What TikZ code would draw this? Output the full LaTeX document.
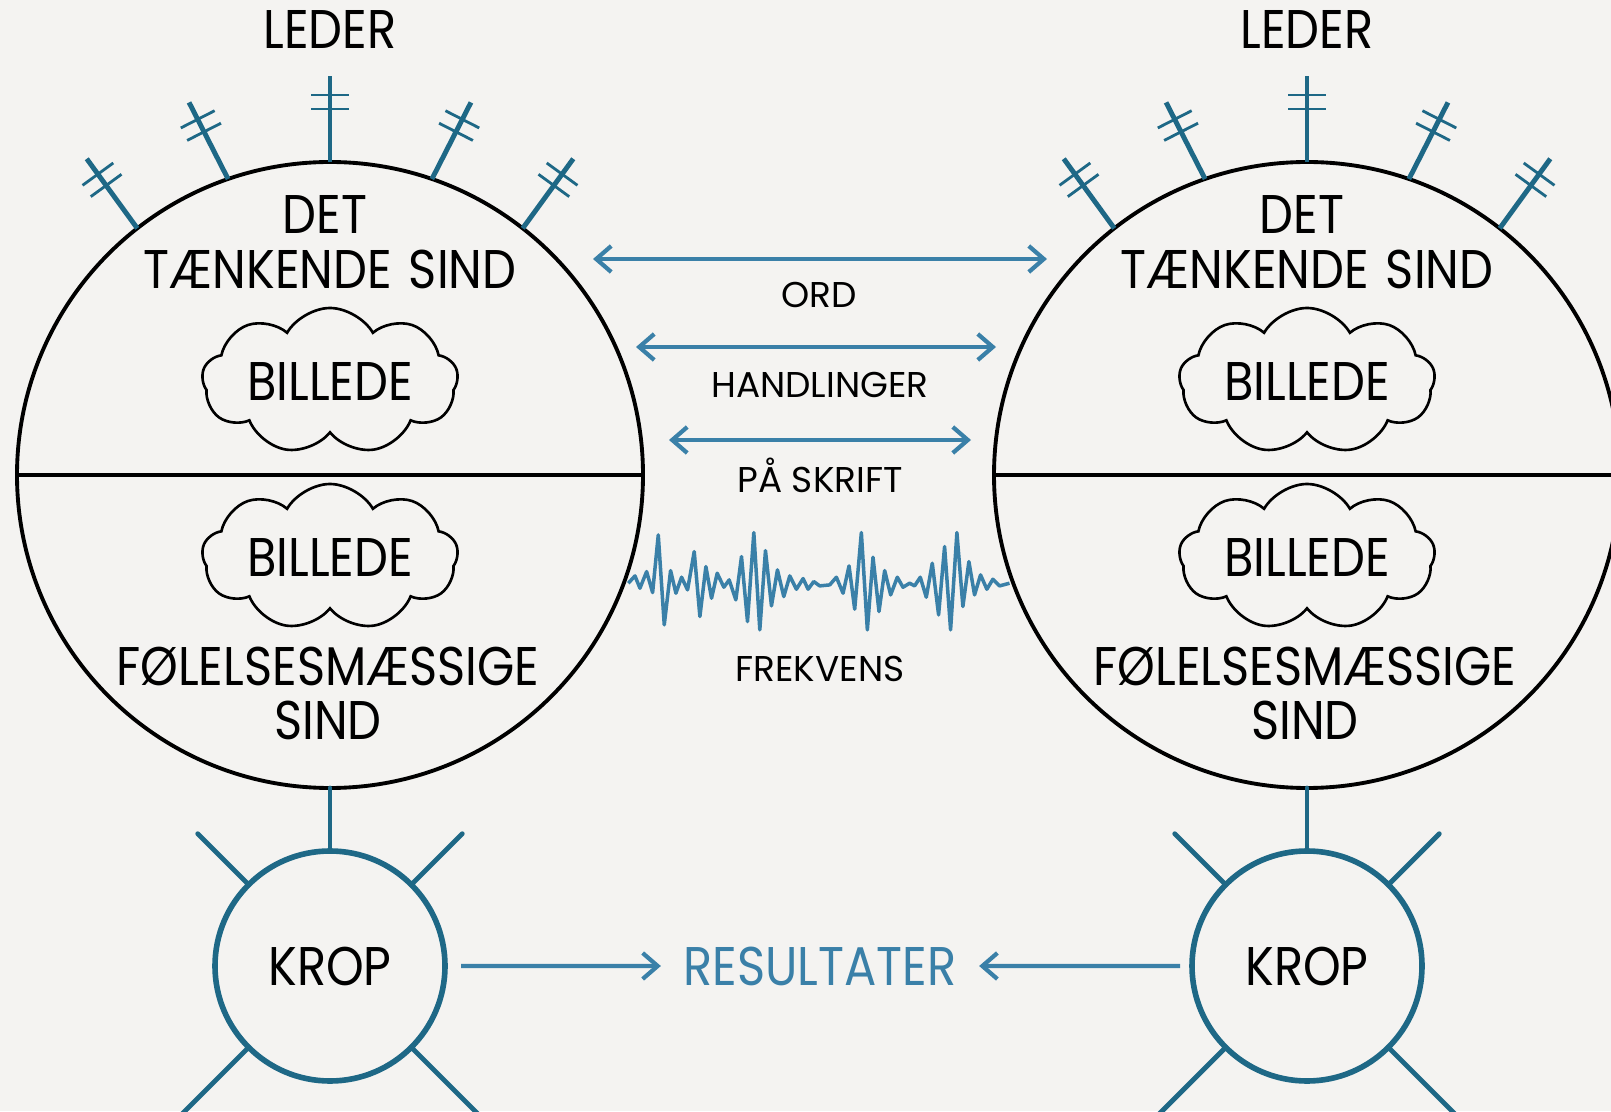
\documentclass[tikz,border=0pt]{standalone}
\usepackage{fontspec}
\setmainfont{Poppins}[FakeStretch=0.88]
\newfontfamily\labelfont{Poppins}
\usetikzlibrary{positioning,shapes.symbols,arrows.meta}
\definecolor{bg}{HTML}{F4F3F1}
\definecolor{darkteal}{HTML}{1E6886}
\definecolor{lightteal}{HTML}{3A80A8}

\begin{document}
\begin{tikzpicture}[node distance=9.77cm, on grid,
    >={Straight Barb[length=1.5mm,width=2.6mm]},
    mind/.style={circle, draw, line width=1.1pt, minimum size=6.26cm, inner sep=0pt, outer sep=0pt},
    krop/.style={circle, draw=darkteal, line width=1.6pt, minimum size=2.3cm, inner sep=0pt, outer sep=0pt, font=\fontsize{15.5}{18}\selectfont},
    billede/.style={cloud, draw, cloud puffs=9, cloud puff arc=120, aspect=1.75, minimum width=2.56cm, minimum height=1.46cm, inner xsep=-0.4cm, inner ysep=-0.12cm, line width=0.75pt, font=\fontsize{15.5}{18}\selectfont},
    big/.style={anchor=base, inner sep=0pt, font=\fontsize{15.5}{18}\selectfont},
    small/.style={anchor=base, inner sep=0pt, font=\labelfont\fontsize{10.2}{12}\selectfont},
    pil/.style={draw=lightteal, line width=1.2pt},
    mast/.style={draw=darkteal, line width=1.4pt},
    bar/.style={draw=darkteal, line width=0.8pt},
    ray/.style={draw=darkteal, line width=1.4pt, line cap=round}]

    \useasboundingbox (0,0) rectangle (16.11,11.11);
    \fill[bg] (0,0) rectangle (16.11,11.11);

    \node[mind] (sindL) at (3.30,6.36) {};
    \node[mind] (sindR) [right=of sindL] {};
    \node[krop] (kropL) [below=4.91cm of sindL] {KROP};
    \node[krop] (kropR) [below=4.91cm of sindR] {KROP};

    \foreach \m/\k in {sindL/kropL,sindR/kropR} {
      \draw[line width=1.1pt] (\m.west) -- (\m.east);
      \node[big] (\m-leder) at ([yshift=4.26cm]\m.center) {LEDER};
      \node[big] (\m-det) at ([xshift=-0.05cm,yshift=2.41cm]\m.center) {DET};
      \node[big] (\m-tanke) at ([yshift=1.86cm]\m.center) {TÆNKENDE\hspace{0.08em} SIND};
      \node[billede] (\m-sky1) at ([yshift=0.94cm]\m.center) {BILLEDE};
      \node[billede] (\m-sky2) at ([yshift=-0.82cm]\m.center) {BILLEDE};
      \node[big] (\m-fol) at ([xshift=-0.02cm,yshift=-2.10cm]\m.center) {FØLELSESMÆSSIGE};
      \node[big] (\m-sind) at ([xshift=-0.02cm,yshift=-2.65cm]\m.center) {SIND};
      % antenner
      \foreach \b/\d in {90/90, 109/117, 128/126, 71/63, 52/54} {
        \begin{scope}[shift={(\m.\b)}, rotate=\d-90]
          \draw[mast] (0,0) -- (0,0.86);
          \draw[bar] (-0.19,0.67) -- (0.19,0.67) (-0.19,0.53) -- (0.19,0.53);
        \end{scope}
      }
      \draw[ray] (\m) -- (\k);
      \draw[ray] (\k.135) -- ++(135:0.72) (\k.45) -- ++(45:0.72)
                 (\k.225) -- ++(225:1) (\k.-45) -- ++(-45:1);
    }

    \node[small] (ord) at (8.19,8.03) {ORD};
    \node[small] (handl) at (8.20,7.13) {HANDLINGER};
    \node[small] (skrift) at (8.20,6.18) {PÅ SKRIFT};
    \node[small] (frekvens) at (8.20,4.29) {FREKVENS};
    \node[inner sep=0pt, text=lightteal, font=\fontsize{15.5}{18}\selectfont] (res) at (8.20,1.45) {RESULTATER};

    \coordinate (ordA) at (5.93,8.52);
    \coordinate (ordB) at (10.47,8.52);
    \coordinate (handlA) at (6.36,7.64);
    \coordinate (handlB) at (9.96,7.64);
    \coordinate (skriftA) at (6.69,6.71);
    \coordinate (skriftB) at (9.71,6.71);
    \draw[pil,<->] (ordA) -- (ordB);
    \draw[pil,<->] (handlA) -- (handlB);
    \draw[pil,<->] (skriftA) -- (skriftB);
    \draw[pil,->,shorten <=0.16cm,shorten >=0.22cm] (kropL) -- (res);
    \draw[pil,->,shorten <=0.12cm,shorten >=0.22cm] (kropR) -- (res);

    % frekvens
    \begin{scope}[shift={(6,6.11)}, x=0.0333mm, y=-0.0333mm]
      \draw[pil, line width=1pt, line join=round] plot coordinates {
        (85,250) (105,228) (120,265) (140,215) (158,278) (175,105) (193,375)
        (212,212) (228,280) (245,232) (263,270) (283,155) (300,350) (318,200)
        (335,295) (352,220) (372,262) (388,240) (408,300) (425,170) (443,365)
        (462,98) (480,390) (497,152) (515,318) (533,210) (552,290) (570,228)
        (590,268) (610,236) (625,268) (642,245) (660,258) (690,255) (710,232)
        (730,280) (748,198) (765,328) (785,98) (803,390) (820,172) (838,335)
        (855,212) (873,285) (893,232) (910,262) (930,250) (945,258) (962,232)
        (980,292) (998,190) (1017,345) (1035,140) (1053,390) (1072,98) (1090,320)
        (1108,185) (1125,285) (1143,225) (1162,268) (1180,238) (1200,258) (1230,250)};
    \end{scope}
\end{tikzpicture}
\end{document}
